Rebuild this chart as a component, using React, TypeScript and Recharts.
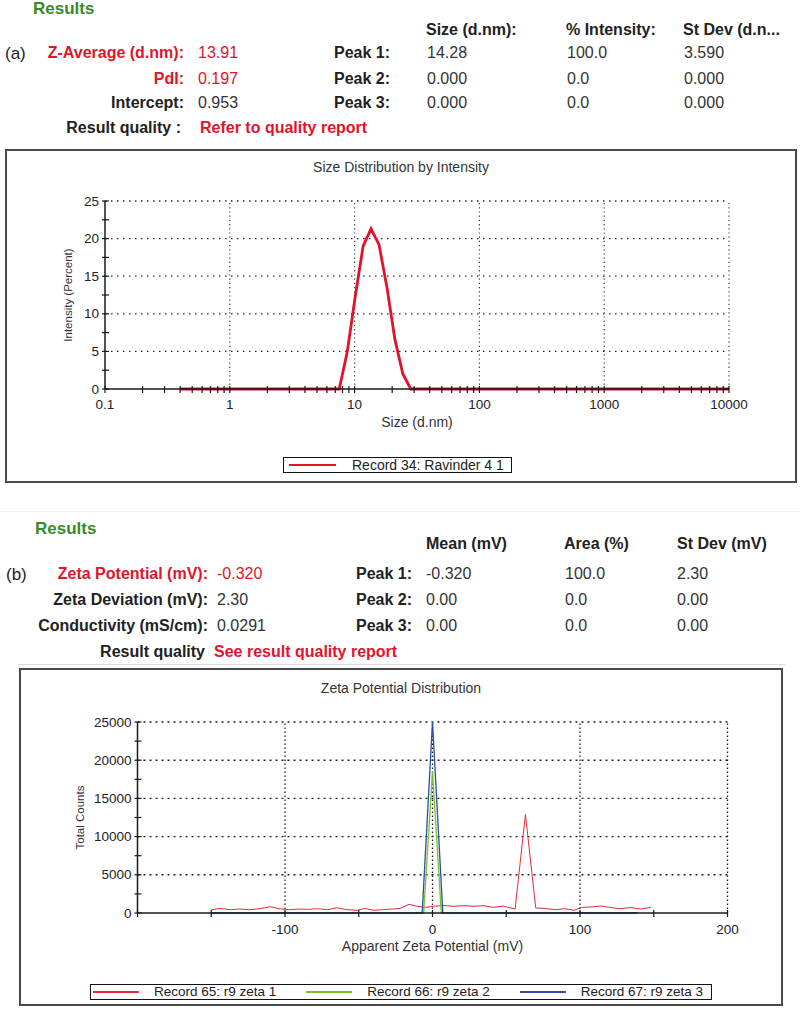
import React from 'react';
import { LineChart, Line, XAxis, YAxis, ReferenceLine, Legend, Label } from 'recharts';

const FONT = '"Liberation Sans", Arial, Helvetica, sans-serif';
const RED = '#e2132b';
const GREEN_TITLE = '#3b8a2a';

// ---------------- Panel (a): size distribution ----------------
const sizeBinsNm = [
  0.4, 0.4632, 0.5365, 0.6213, 0.7195, 0.8332, 0.9649, 1.117, 1.294, 1.499,
  1.736, 2.01, 2.328, 2.696, 3.122, 3.615, 4.187, 4.849, 5.615, 6.503,
  7.531, 8.721, 10.1, 11.7, 13.54, 15.69, 18.17, 21.04, 24.36, 28.21,
  32.67, 37.84, 43.82, 50.75, 58.77, 68.06, 78.82, 91.28, 105.7, 122.4,
  141.8, 164.2, 190.1, 220.2, 255.0, 295.3, 342.0, 396.1, 458.7, 531.2,
  615.1, 712.4, 825.0, 955.4, 1106, 1281, 1484, 1718, 1990, 2305,
  2669, 3091, 3580, 4145, 4801, 5560, 6439, 7456, 8635, 10000,
];
const intensityPercent = [
  0, 0, 0, 0, 0, 0, 0, 0, 0, 0,
  0, 0, 0, 0, 0, 0, 0, 0, 0, 0,
  0, 4.9, 12.2, 19.0, 21.3, 19.2, 13.5, 6.6, 2.0, 0,
  0, 0, 0, 0, 0, 0, 0, 0, 0, 0,
  0, 0, 0, 0, 0, 0, 0, 0, 0, 0,
  0, 0, 0, 0, 0, 0, 0, 0, 0, 0,
  0, 0, 0, 0, 0, 0, 0, 0, 0, 0,
];
const sizeAxisTicks = [
  0.1, 0.2, 0.3, 0.4, 0.5, 0.6, 0.7, 0.8, 0.9,
  1, 2, 3, 4, 5, 6, 7, 8, 9,
  10, 20, 30, 40, 50, 60, 70, 80, 90,
  100, 200, 300, 400, 500, 600, 700, 800, 900,
  1000, 2000, 3000, 4000, 5000, 6000, 7000, 8000, 9000, 10000,
];
const sizeLabelTicks = [0.1, 1, 10, 100, 1000, 10000];
const sizeGridX = [1, 10, 100, 1000, 10000];
const intensityAxisTicks = [0, 2.5, 5, 7.5, 10, 12.5, 15, 17.5, 20, 22.5, 25];
const intensityLabelTicks = [0, 5, 10, 15, 20, 25];
const intensityGridY = [5, 10, 15, 20, 25];

// ---------------- Panel (b): zeta potential ----------------
const zeta1Mv = [
  -150, -144, -137, -131, -124, -117, -110, -104, -97, -90,
  -84, -78, -71, -65, -58, -51, -46, -40, -34, -27,
  -22, -16, -10, -5, 1, 7, 14, 21, 28, 35,
  41, 48, 52, 56, 63, 70, 76, 83, 90, 96,
  101, 107, 114, 120, 127, 134, 141, 148,
];
const zeta1Counts = [
  430, 600, 430, 520, 430, 560, 820, 560, 430, 520,
  480, 560, 430, 690, 430, 350, 600, 350, 430, 520,
  600, 1130, 870, 740, 870, 1000, 870, 960, 870, 960,
  740, 910, 700, 520, 12900, 650, 600, 430, 560, 350,
  740, 780, 910, 740, 560, 700, 520, 740,
];
const zeta2Mv = [-150, -6, 0, 6, 139];
const zeta2Counts = [0, 0, 18500, 0, 0];
const zeta3Mv = [-150, -7, 0, 7, 139];
const zeta3Counts = [0, 0, 25000, 0, 0];
const zetaAxisTicks = [-200, -150, -100, -50, 0, 50, 100, 150, 200];
const zetaLabelTicks = [-100, 0, 100, 200];
const zetaGridX = [-100, 0, 100, 200];
const countAxisTicks = [0, 2500, 5000, 7500, 10000, 12500, 15000, 17500, 20000, 22500, 25000];
const countLabelTicks = [0, 5000, 10000, 15000, 20000, 25000];
const countGridY = [5000, 10000, 15000, 20000, 25000];

const sizeData = sizeBinsNm.map((x, i) => ({ x, y: intensityPercent[i] }));
const zeta1Data = zeta1Mv.map((x, i) => ({ x, y: zeta1Counts[i] }));
const zeta2Data = zeta2Mv.map((x, i) => ({ x, y: zeta2Counts[i] }));
const zeta3Data = zeta3Mv.map((x, i) => ({ x, y: zeta3Counts[i] }));

// ---------------- tick renderers ----------------
const makeXTick = (labels: number[], labelDy: number) => (p: any) => {
  const { x, y, payload } = p;
  const v = payload.value;
  return (
    <g>
      <line x1={x} x2={x} y1={y - 3} y2={y + 4} stroke="#1a1a1a" strokeWidth={1.2} />
      {labels.includes(v) && (
        <text x={x} y={y + labelDy} textAnchor="middle" dominantBaseline="central"
          fontSize={13.5} fontFamily={FONT} fill="#222">{String(v)}</text>
      )}
    </g>
  );
};
const makeYTick = (labels: number[]) => (p: any) => {
  const { x, y, payload } = p;
  const v = payload.value;
  return (
    <g>
      <line x1={x - 3} x2={x + 4} y1={y} y2={y} stroke="#1a1a1a" strokeWidth={1.2} />
      {labels.includes(v) && (
        <text x={x - 6} y={y} textAnchor="end" dominantBaseline="central"
          fontSize={13.5} fontFamily={FONT} fill="#222">{String(v)}</text>
      )}
    </g>
  );
};

const makeLegend = (boxWidth: number, padLeft: number, lineW: number, gapText: number, gapItem: number, fontSize: number, lineStroke: number) =>
  (props: any) => {
    const payload = props.payload || [];
    return (
      <div style={{
        width: boxWidth, height: 16, boxSizing: 'border-box', border: '1.5px solid #111',
        display: 'flex', alignItems: 'center', paddingLeft: padLeft, fontFamily: FONT,
        fontSize, color: '#222', background: '#fff', whiteSpace: 'nowrap',
      }}>
        {payload.map((item: any, i: number) => (
          <div key={i} style={{ display: 'flex', alignItems: 'center', marginLeft: i === 0 ? 0 : gapItem }}>
            <div style={{ width: lineW, height: lineStroke, background: item.color }} />
            <span style={{ marginLeft: gapText, lineHeight: '14px' }}>{item.value}</span>
          </div>
        ))}
      </div>
    );
  };

// ---------------- text helper ----------------
function T({ x, right, y, children, color = '#222', bold = false, size = 16 }: any) {
  const style: any = {
    position: 'absolute', top: y - size / 2, lineHeight: `${size}px`, fontSize: size,
    fontWeight: bold ? 700 : 400, color, whiteSpace: 'nowrap', fontFamily: FONT,
  };
  if (right !== undefined) style.right = 800 - right; else style.left = x;
  return <div style={style}>{children}</div>;
}

export default function App() {
  return (
    <div style={{ position: 'absolute', left: 0, top: 0, width: 800, height: 1015, background: '#fff', fontFamily: FONT, overflow: 'hidden' }}>
      {/* ---------- Panel (a) header ---------- */}
      <T x={33} y={8} color={GREEN_TITLE} bold size={17}>Results</T>
      <T x={426} y={30} bold>Size (d.nm):</T>
      <T x={566} y={30} bold>% Intensity:</T>
      <T x={683} y={30} bold>St Dev (d.n...</T>
      <T x={5} y={53} size={17}>(a)</T>
      <T right={184} y={53} bold color={RED}>Z-Average (d.nm):</T>
      <T x={198} y={53} color={RED}>13.91</T>
      <T right={390} y={53} bold>Peak 1:</T>
      <T x={427} y={53} color="#333">14.28</T>
      <T x={567} y={53} color="#333">100.0</T>
      <T x={684} y={53} color="#333">3.590</T>
      <T right={184} y={79} bold color={RED}>PdI:</T>
      <T x={198} y={79} color={RED}>0.197</T>
      <T right={390} y={79} bold>Peak 2:</T>
      <T x={427} y={79} color="#333">0.000</T>
      <T x={567} y={79} color="#333">0.0</T>
      <T x={684} y={79} color="#333">0.000</T>
      <T right={184} y={103} bold>Intercept:</T>
      <T x={198} y={103} color="#333">0.953</T>
      <T right={390} y={103} bold>Peak 3:</T>
      <T x={427} y={103} color="#333">0.000</T>
      <T x={567} y={103} color="#333">0.0</T>
      <T x={684} y={103} color="#333">0.000</T>
      <T right={181} y={128} bold>Result quality :</T>
      <T x={200} y={128} bold color={RED}>Refer to quality report</T>

      {/* ---------- Panel (a) chart ---------- */}
      <div style={{ position: 'absolute', left: 5, top: 149, width: 792, height: 334, boxSizing: 'border-box', border: '2px solid #4a4a4a' }}>
        <div style={{ position: 'absolute', left: 0, top: 9, width: '100%', textAlign: 'center', fontSize: 14, lineHeight: '14px', color: '#333', fontFamily: FONT }}>
          Size Distribution by Intensity
        </div>
        <LineChart width={788} height={330} data={sizeData} margin={{ top: 50, right: 66, left: 38, bottom: 52 }}>
          {intensityGridY.map((v) => (
            <ReferenceLine key={'hy' + v} y={v} stroke="#2a2a2a" strokeWidth={1.3} strokeDasharray="1.5 4.5" />
          ))}
          {sizeGridX.map((v) => (
            <ReferenceLine key={'vx' + v} x={v} stroke="#3a3a3a" strokeWidth={1.2} strokeDasharray="1.2 3" />
          ))}
          <XAxis type="number" dataKey="x" scale="log" domain={[0.1, 10000]} ticks={sizeAxisTicks}
            interval={0} tickSize={0} tickMargin={0} tickLine={false} allowDataOverflow
            axisLine={{ stroke: '#1a1a1a', strokeWidth: 1.5 }} tick={makeXTick(sizeLabelTicks, 15)} height={40}>
            <Label value="Size (d.nm)" position="insideBottom" offset={2} fontSize={14} fill="#333" fontFamily={FONT} />
          </XAxis>
          <YAxis type="number" domain={[0, 25]} ticks={intensityAxisTicks} interval={0} tickSize={0} tickMargin={0}
            tickLine={false} axisLine={{ stroke: '#1a1a1a', strokeWidth: 1.5 }} tick={makeYTick(intensityLabelTicks)} width={60}>
            <Label value="Intensity (Percent)" angle={-90} position="insideLeft" offset={23}
              style={{ textAnchor: 'middle' }} fontSize={11.5} fill="#333" fontFamily={FONT} />
          </YAxis>
          <Line type="linear" dataKey="y" name="Record 34: Ravinder 4 1" stroke="#e0122c" strokeWidth={2.8}
            dot={false} isAnimationActive={false} />
          <Legend layout="horizontal" verticalAlign="middle" align="center"
            wrapperStyle={{ left: 276, top: 306, width: 'auto', height: 'auto' }}
            content={makeLegend(229, 5, 47, 16, 30, 14, 2.5)} />
        </LineChart>
      </div>

      {/* separators */}
      <div style={{ position: 'absolute', left: 0, top: 511, width: 800, height: 1, background: '#f0f0f0' }} />
      <div style={{ position: 'absolute', left: 18, top: 664, width: 767, height: 1, background: '#dcdcdc' }} />

      {/* ---------- Panel (b) header ---------- */}
      <T x={35} y={528} color={GREEN_TITLE} bold size={17}>Results</T>
      <T x={426} y={544} bold>Mean (mV)</T>
      <T x={564} y={544} bold>Area (%)</T>
      <T x={677} y={544} bold>St Dev (mV)</T>
      <T x={6} y={574} size={17}>(b)</T>
      <T right={208} y={574} bold color={RED}>Zeta Potential (mV):</T>
      <T x={217} y={574} color={RED}>-0.320</T>
      <T right={412} y={574} bold>Peak 1:</T>
      <T x={426} y={574} color="#333">-0.320</T>
      <T x={565} y={574} color="#333">100.0</T>
      <T x={677} y={574} color="#333">2.30</T>
      <T right={208} y={600} bold>Zeta Deviation (mV):</T>
      <T x={217} y={600} color="#333">2.30</T>
      <T right={412} y={600} bold>Peak 2:</T>
      <T x={426} y={600} color="#333">0.00</T>
      <T x={565} y={600} color="#333">0.0</T>
      <T x={677} y={600} color="#333">0.00</T>
      <T right={208} y={626} bold>Conductivity (mS/cm):</T>
      <T x={217} y={626} color="#333">0.0291</T>
      <T right={412} y={626} bold>Peak 3:</T>
      <T x={426} y={626} color="#333">0.00</T>
      <T x={565} y={626} color="#333">0.0</T>
      <T x={677} y={626} color="#333">0.00</T>
      <T right={205} y={652} bold>Result quality</T>
      <T x={214} y={652} bold color={RED}>See result quality report</T>

      {/* ---------- Panel (b) chart ---------- */}
      <div style={{ position: 'absolute', left: 19, top: 668, width: 764, height: 338, boxSizing: 'border-box', border: '2px solid #4a4a4a' }}>
        <div style={{ position: 'absolute', left: 0, top: 11, width: '100%', textAlign: 'center', fontSize: 14, lineHeight: '14px', color: '#333', fontFamily: FONT }}>
          Zeta Potential Distribution
        </div>
        <LineChart width={760} height={334} margin={{ top: 52, right: 53.5, left: 56.5, bottom: 51 }}>
          {countGridY.map((v) => (
            <ReferenceLine key={'hy' + v} y={v} stroke="#1e1e1e" strokeWidth={1.4} strokeDasharray="2 4" />
          ))}
          {zetaGridX.map((v) => (
            <ReferenceLine key={'vx' + v} x={v} stroke="#1e1e1e" strokeWidth={1.3} strokeDasharray="1.5 2.5" />
          ))}
          <XAxis type="number" dataKey="x" domain={[-200, 200]} ticks={zetaAxisTicks} interval={0}
            tickSize={0} tickMargin={0} tickLine={false} allowDataOverflow
            axisLine={{ stroke: '#1a1a1a', strokeWidth: 1.5 }} tick={makeXTick(zetaLabelTicks, 16)} height={40}>
            <Label value="Apparent Zeta Potential (mV)" position="insideBottom" offset={2} fontSize={14} fill="#333" fontFamily={FONT} />
          </XAxis>
          <YAxis type="number" domain={[0, 25000]} ticks={countAxisTicks} interval={0} tickSize={0} tickMargin={0}
            tickLine={false} axisLine={{ stroke: '#1a1a1a', strokeWidth: 1.5 }} tick={makeYTick(countLabelTicks)} width={60}>
            <Label value="Total Counts" angle={-90} position="insideLeft" offset={2.5}
              style={{ textAnchor: 'middle' }} fontSize={11.5} fill="#333" fontFamily={FONT} />
          </YAxis>
          <Line data={zeta1Data} type="linear" dataKey="y" name="Record 65: r9 zeta 1" stroke="#e8283a" strokeWidth={1}
            dot={false} isAnimationActive={false} />
          <Line data={zeta2Data} type="linear" dataKey="y" name="Record 66: r9 zeta 2" stroke="#7cc22b" strokeWidth={1.3}
            dot={false} isAnimationActive={false} />
          <Line data={zeta3Data} type="linear" dataKey="y" name="Record 67: r9 zeta 3" stroke="#2d4f9e" strokeWidth={1.3}
            dot={false} isAnimationActive={false} />
          <Legend layout="horizontal" verticalAlign="middle" align="center"
            wrapperStyle={{ left: 69, top: 314, width: 'auto', height: 'auto' }}
            content={makeLegend(622, 2, 46, 15, 30, 13.5, 1.3)} />
        </LineChart>
      </div>
    </div>
  );
}
